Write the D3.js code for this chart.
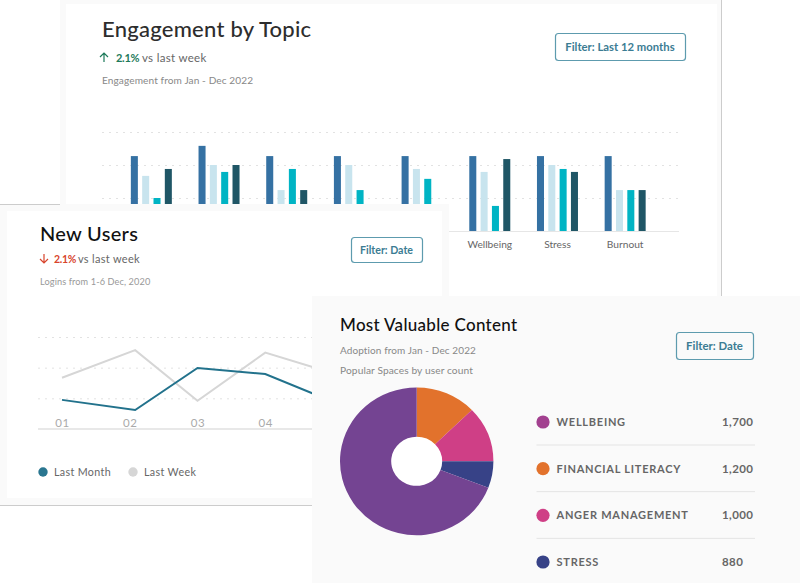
<!DOCTYPE html>
<html>
<head>
<meta charset="utf-8">
<script src="https://cdn.jsdelivr.net/npm/d3@7"></script>
<style>
  html, body { margin: 0; padding: 0; background: #fff; }
  svg { display: block; }
  text { font-family: Lato, "Open Sans", sans-serif; }
</style>
</head>
<body>
<svg id="chart" width="800" height="583"></svg>
<script>
// Engagement by Topic (labels of the first five groups are hidden in the picture)
const topics = ["t1", "t2", "t3", "t4", "t5", "Wellbeing", "Stress", "Burnout"];
const topicLabels = ["", "", "", "", "", "Wellbeing", "Stress", "Burnout"];
const barSeries = ["s1", "s2", "s3", "s4"];
const s1Values = [22.7, 25.8, 22.7, 22.7, 22.7, 22.7, 22.7, 22.7];
const s2Values = [16.7, 20, 12.4, 20, 18.8, 17.9, 20, 12.4];
const s3Values = [10, 17.9, 18.8, 12.4, 15.8, 7.6, 18.8, 12.4];
const s4Values = [18.8, 20, 12.4, 0, 0, 21.8, 17.9, 12.4];
const barColors = ["#3571a3", "#c8e4ee", "#00b4c4", "#1f5666"];

// New Users (day 2 vertex sits a little right of its tick in the picture)
const days = [1, 2.08, 3, 4, 5];
const dayTicks = [1, 2, 3, 4];
const lastMonth = [9.5, 6.2, 19.9, 17.9, 8.9];
const lastWeek = [16.7, 25.7, 9.2, 24.9, 18.2];

// Most Valuable Content
const pieShares = [46, 44, 21, 249]; // the slices do not follow the listed counts
const pieColors = ["#e2722c", "#cf3f86", "#374287", "#744492"];
const contentNames = ["WELLBEING", "FINANCIAL LITERACY", "ANGER MANAGEMENT", "STRESS"];
const contentCounts = ["1,700", "1,200", "1,000", "880"];
const contentColors = ["#a2408f", "#e2722c", "#cf3f86", "#374287"];

const gridTicks = [10, 20, 30];
const svg = d3.select("#chart");

const rect = (x, y, w, h, fill) =>
  svg.append("rect").attr("x", x).attr("y", y).attr("width", w).attr("height", h).attr("fill", fill);

const label = (x, y, str, size, color, weight, spacing) =>
  svg.append("text")
    .attr("x", x)
    .attr("y", y)
    .text(str)
    .style("font-size", size + "px")
    .style("fill", color)
    .style("font-weight", weight || 400)
    .style("letter-spacing", (spacing || 0) + "px");

const button = (x, y, w, h, str, size) => {
  svg.append("rect")
    .attr("x", x + 0.5).attr("y", y + 0.5)
    .attr("width", w).attr("height", h).attr("rx", 3)
    .attr("fill", "none").attr("stroke", "#5d9bae").attr("stroke-width", 1.2);
  label(x + w / 2, y + h / 2 + 4, str, size, "#3b7c93", 700).attr("text-anchor", "middle");
};

const arrow = (x, top, bottom, dir, color) => {
  const tip = dir > 0 ? top : bottom;
  svg.append("path")
    .attr("d", `M${x},${top}V${bottom}M${x - 4},${tip + dir * 4}L${x},${tip}L${x + 4},${tip + dir * 4}`)
    .attr("fill", "none").attr("stroke", color).attr("stroke-width", 1.2);
};

const dottedGrid = (g) => {
  g.select(".domain").remove();
  g.selectAll("line").attr("stroke", "#e2e2e2").attr("stroke-dasharray", "2,5");
  g.selectAll("text").remove();
};

// ---- card 1: bars
rect(60, 0, 662, 300, "#fafafa");
rect(66, 4, 651, 292, "#fff");
rect(721, 0, 1, 296, "#cccccc");
rect(721, 296, 79, 1, "#cccccc");
rect(0, 204, 60, 1, "#cccccc");

label(102, 37, "Engagement by Topic", 22, "#2d2d2d", 500, 0.25);
arrow(104, 53, 62, 1, "#1d7a5a");
label(116, 62, "2.1%", 11, "#1d7a5a", 700, -0.3);
label(142, 62, "vs last week", 11.5, "#666", 400, 0.3);
label(102, 84, "Engagement from Jan - Dec 2022", 10.1, "#888", 400, 0.1);
button(555, 33, 130, 27, "Filter: Last 12 months", 11.3);

const x0 = d3.scaleBand().domain(topics).range([117.5, 659]);
const x1 = d3.scaleBand().domain(barSeries).range([0, 41]).paddingInner(0.38);
const barY = d3.scaleLinear().domain([0, 30]).range([231, 132]);

svg.append("g")
  .attr("transform", "translate(102,0)")
  .call(d3.axisLeft(barY).tickValues(gridTicks).tickSize(-577))
  .call(dottedGrid);

[s1Values, s2Values, s3Values, s4Values].forEach((vals, s) => {
  svg.append("g")
    .selectAll("rect")
    .data(vals)
    .enter()
    .append("rect")
    .attr("x", (_, i) => x0(topics[i]) + x0.bandwidth() / 2 - 20.5 + x1(barSeries[s]))
    .attr("y", (d) => barY(d))
    .attr("width", x1.bandwidth())
    .attr("height", (d) => barY(0) - barY(d))
    .attr("fill", barColors[s]);
});

const barAxis = svg.append("g")
  .attr("transform", "translate(0,231)")
  .call(d3.axisBottom(x0).tickSize(0).tickPadding(10).tickFormat((_, i) => topicLabels[i]));
barAxis.select(".domain").remove();
barAxis.selectAll("text")
  .style("font-size", "10.2px").style("fill", "#666")
  .style("font-family", "Lato");
rect(102, 231, 577, 1, "#e6e6e6");

// ---- card 2: lines
rect(0, 204, 449, 301, "#fafafa");
rect(0, 204, 60, 1, "#cccccc");
rect(7, 211, 435, 287, "#fff");
rect(0, 505, 312, 1, "#cccccc");

label(40, 241, "New Users", 20, "#111", 500, 0.3);
arrow(44, 254, 263, -1, "#d8442c");
label(54, 263, "2.1%", 10.5, "#d8442c", 700, -0.3);
label(78, 263, "vs last week", 11, "#666", 400, 0.3);
label(40, 285, "Logins from 1-6 Dec, 2020", 9.2, "#999", 400, 0.1);
button(351, 237, 71, 25, "Filter: Date", 10.6);

const lineX = d3.scaleLinear().domain([1, 5]).range([62, 333]);
const lineY = d3.scaleLinear().domain([0, 30]).range([429, 337]);

svg.append("g")
  .attr("transform", "translate(38,0)")
  .call(d3.axisLeft(lineY).tickValues(gridTicks).tickSize(-400))
  .call(dottedGrid);

const lineGen = d3.line().x((d) => lineX(d[0])).y((d) => lineY(d[1]));
[[lastWeek, "#d6d6d6"], [lastMonth, "#22728c"]].forEach(([vals, color]) => {
  svg.append("path")
    .attr("d", lineGen(vals.map((v, i) => [days[i], v])))
    .attr("fill", "none")
    .attr("stroke", color)
    .attr("stroke-width", 2);
});

const lineAxis = svg.append("g")
  .attr("transform", "translate(0,429)")
  .call(d3.axisBottom(lineX).tickValues(dayTicks).tickSize(0).tickFormat((d) => "0" + d));
lineAxis.select(".domain").remove();
lineAxis.selectAll("text")
  .attr("y", -1)
  .attr("dy", "-0.1em")
  .style("font-size", "11.5px").style("fill", "#aaa").style("letter-spacing", "0.5px")
  .style("font-family", "Lato");
rect(38, 428, 400, 2, "#e8e8e8");

svg.append("circle").attr("cx", 43).attr("cy", 472).attr("r", 4.7).attr("fill", "#2a7690");
label(54, 476, "Last Month", 10.7, "#666", 400, 0.35);
svg.append("circle").attr("cx", 133).attr("cy", 472).attr("r", 4.7).attr("fill", "#d6d6d6");
label(144, 476, "Last Week", 10.7, "#666", 400, 0.35);

// ---- card 3: donut
rect(312, 296, 488, 287, "#fafafa");

label(340, 331, "Most Valuable Content", 17, "#111", 500, 0.3);
label(340, 354, "Adoption from Jan - Dec 2022", 10, "#888", 400, 0.1);
label(340, 374, "Popular Spaces by user count", 10.2, "#888", 400, 0.1);
button(676, 332, 77, 27, "Filter: Date", 11.4);

const arcGen = d3.arc().innerRadius(25.5).outerRadius(76.7);
const pieG = svg.append("g").attr("transform", "translate(416.7,461.3) scale(1,0.963)");
pieG.append("circle").attr("r", 26).attr("fill", "#fff");
pieG.selectAll("path")
  .data(d3.pie().sort(null)(pieShares))
  .enter()
  .append("path")
  .attr("d", arcGen)
  .attr("fill", (_, i) => pieColors[i]);

const rowY = d3.scalePoint().domain(contentNames).range([422, 562]);
contentNames.forEach((name, i) => {
  const y = rowY(name);
  svg.append("circle").attr("cx", 543).attr("cy", y).attr("r", 6.6).attr("fill", contentColors[i]);
  label(556.5, y + 4, name, 11, "#666", 700, 0.75);
  label(722, y + 4, contentCounts[i], 11.5, "#666", 700, 0.4);
  if (i < contentNames.length - 1) rect(536.5, y + 22.5, 218.5, 1, "#e4e4e4");
});
</script>
</body>
</html>
